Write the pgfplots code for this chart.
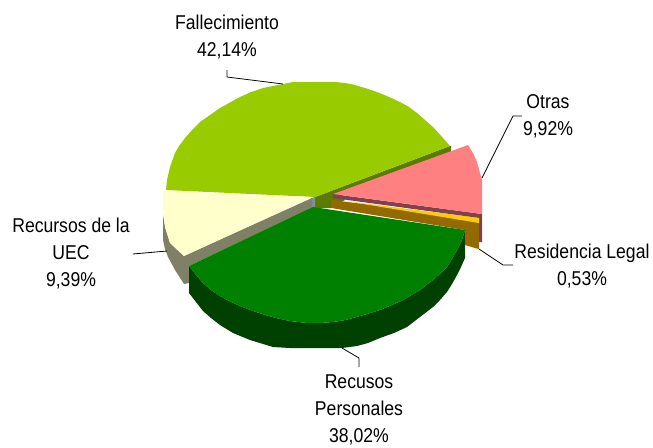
\documentclass[border=0pt]{standalone}
\usepackage{pgfplots}
\pgfplotsset{compat=1.18}
\usepackage{fontspec}
\setmainfont[FakeStretch=0.88]{Liberation Sans}
\definecolor{cFal}{HTML}{99CC00}
\definecolor{cFalW}{HTML}{5C7A00}
\definecolor{cOtr}{HTML}{FF8080}
\definecolor{cOtrW}{HTML}{804050}
\definecolor{cRes}{HTML}{FFCC00}
\definecolor{cResW}{HTML}{946A00}
\definecolor{cPer}{HTML}{008000}
\definecolor{cPerW}{HTML}{004000}
\definecolor{cUec}{HTML}{FFFFCC}
\definecolor{cUecW}{HTML}{808066}
\definecolor{cMid}{HTML}{7F8F9F}
\tikzset{lab/.style={font=\fontsize{20}{27}\selectfont, align=center, text=black, inner sep=0pt, anchor=center}}
\begin{document}
\begin{tikzpicture}
\begin{axis}[
  scale only axis, width=653pt, height=447pt,
  xmin=0, xmax=653, ymin=0, ymax=447, y dir=reverse,
  hide axis, clip=false, no markers,
  every axis plot/.append style={draw=none, solid},
]
\path (axis cs:0,0) rectangle (axis cs:653,447);
% walls
\addplot[fill=cFalW] coordinates {(315,197)(450,146)(451,146)(451,152)(340,192)(345,200)(331,208)(315,208)} --cycle;
\addplot[fill=cMid] coordinates {(311,198)(315,197)(315,208)(311,209)} --cycle;
\addplot[fill=cUecW] coordinates {(163,215)(163,240)(165,249)(168,257)(175,270)(184,284)(189,283)(189,266)(312,208)(312,198)(184,256)(170,243)(165,227)} --cycle;
\addplot[fill=cPerW] coordinates {(189,266)(196,275)(203,283)(211,290)(220,296)(230,301.5)(240,306)(253,311)(267,315.5)(278,318.5)(290,321)(307,323)(320,323)(333,322)(343,320.5)(353,318)(367,314)(380,310)(392,305)(403,300)(420,290)(433,280)(440,274)(447,267)(452,259)(457,250)(462,240)(465,230)(465,258)(461,267)(457,275)(452,284)(447,292)(440,300)(433,307)(420,317)(407,327)(394,333)(380,338)(368,343)(357,346)(342,348)(300,348)(290,348)(273,347)(250,340)(233,333)(220,325)(211,318)(203,311)(196,302)(189,293)} --cycle;
\addplot[fill=cOtrW] coordinates {(333,194)(482,214)(482,242)(479,242)(479,218)(333,198)} --cycle;
\addplot[fill=cResW] coordinates {(331,200)(479,218)(479,249)(475,248)(465,245)(465,230)(331,208)} --cycle;
% top faces
\addplot[fill=cFal] coordinates {(166,190)(167,180)(170,167)(175,153)(179,146)(185,138)(192,130)(200,122)(210,115)(220,108)(240,97)(250,92.5)(263,88)(283,84)(293,82)(335,82)(345,83)(353,84.5)(365,88)(377,92)(389,97)(400,102)(409,107)(417,113)(425,120)(433,127)(443,138)(450,146)(315,197)} --cycle;
\addplot[fill=cUec] coordinates {(163,191)(312,197)(184,256)(170,243)(165,227)(163,203)} --cycle;
\addplot[fill=cPer] coordinates {(189,266)(313,207)(465,230)(462,240)(457,250)(452,259)(447,267)(440,274)(433,280)(420,290)(403,300)(392,305)(380,310)(367,314)(353,318)(343,320.5)(333,322)(320,323)(307,323)(290,321)(278,318.5)(267,315.5)(253,311)(240,306)(230,301.5)(220,296)(211,290)(203,283)(196,275)} --cycle;
\addplot[fill=cOtr] coordinates {(333,194)(468,145)(473,153)(477,162)(480,173)(482,180)(482,214)} --cycle;
\addplot[fill=cRes] coordinates {(345,201)(479,218)(479,223)} --cycle;
% leader lines
\addplot[draw=black, line width=0.8pt] coordinates {(227,70)(227,77)(283,84)};
\addplot[draw=black, line width=0.8pt] coordinates {(482,178)(513,116)(522,116)};
\addplot[draw=black, line width=0.8pt] coordinates {(479,249)(503,265)(513,265)};
\addplot[draw=black, line width=0.8pt] coordinates {(133,254)(167,251)};
\addplot[draw=black, line width=0.8pt] coordinates {(342,348)(359,358)(359,367)};
% labels
\node[lab] at (axis cs:227,37) {Fallecimiento\\42,14\%};
\node[lab] at (axis cs:548,116) {Otras\\9,92\%};
\node[lab] at (axis cs:582,266) {Residencia Legal\\0,53\%};
\node[lab] at (axis cs:71,254) {Recursos de la\\UEC\\9,39\%};
\node[lab] at (axis cs:359,410) {Recusos\\Personales\\38,02\%};
\end{axis}
\end{tikzpicture}
\end{document}
